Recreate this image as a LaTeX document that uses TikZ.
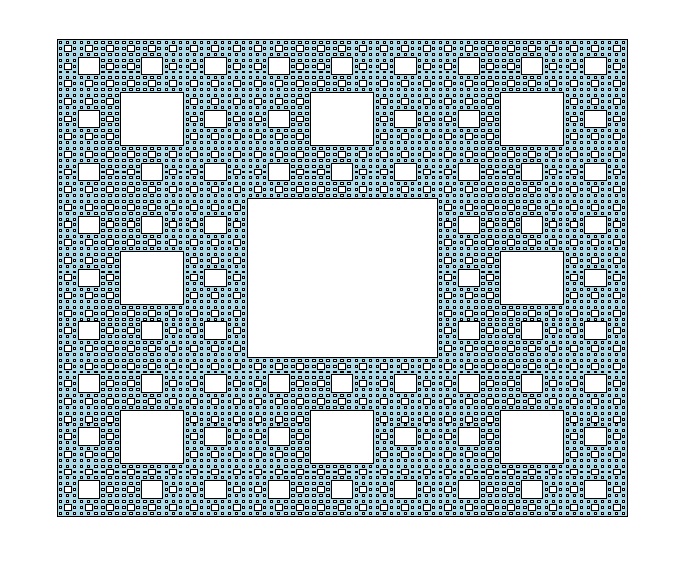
\documentclass[tikz,border=0pt]{standalone}
\definecolor{lb}{RGB}{173,216,230}
\tikzset{carpet/.style={draw=black,line width=0.75pt,fill=lb},hole/.style={draw=black,line width=0.75pt,fill=white}}
\begin{document}
\begin{tikzpicture}[x=1pt,y=-1pt]
\useasboundingbox (0,0) rectangle (673,565);
\def\X{57}\def\Y{39.5}\def\W{570}\def\H{476.5}
\path[carpet] (\X,\Y) rectangle ++(\W,\H);
\foreach \n in {81,27,9,3,1}{
  \pgfmathsetmacro\cw{\W/(3*\n)}
  \pgfmathsetmacro\ch{\H/(3*\n)}
  \pgfmathtruncatemacro\m{\n-1}
  \foreach \a in {0,...,\m}{
    \foreach \b in {0,...,\m}{
      \path[hole] ({\X+(3*\a+1)*\cw},{\Y+(3*\b+1)*\ch}) rectangle ++(\cw,\ch);
    }
  }
}
\end{tikzpicture}
\end{document}
